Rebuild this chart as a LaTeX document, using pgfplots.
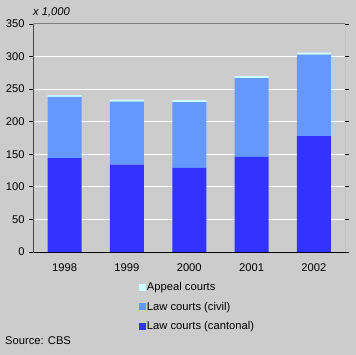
\documentclass[border=0pt]{standalone}
\usepackage{pgfplots}
\pgfplotsset{compat=1.18}
\usepackage{fontspec}
\setmainfont{Liberation Sans}
\definecolor{bg}{HTML}{CCCCCC}
\definecolor{cantonal}{HTML}{3333FF}
\definecolor{civil}{HTML}{6699FF}
\definecolor{appeal}{HTML}{CCFFFF}
\definecolor{frame}{HTML}{808080}
\begin{document}
\fontsize{11.2bp}{12.5bp}\selectfont
\begin{tikzpicture}
\fill[bg] (0,0) rectangle (356bp,355bp);
\useasboundingbox (0,0) rectangle (356bp,355bp);
\begin{axis}[
  at={(33.5bp,103bp)}, anchor=south west,
  width=311.5bp, height=228bp, scale only axis,
  ybar stacked, bar width=34bp,
  xmin=-0.5, xmax=4.5, ymin=0, ymax=350,
  xtick={0,1,2,3,4}, xticklabels={1998,1999,2000,2001,2002},
  ytick={0,50,...,350},
  axis line style={draw=none},
  ymajorgrids, grid style={white, line width=1bp},
  x tick style={draw=none},
  y tick style={black, line width=0.8bp},
  tick align=outside, major tick length=4bp,
  /pgf/number format/assume math mode=true,
  yticklabel style={xshift=-1bp},
  xticklabel style={yshift=-4bp},
  reverse legend,
  legend cell align=left,
  legend style={at={(0.338,-0.127)}, anchor=north west, draw=none, fill=none,
    row sep=8bp, inner sep=0pt,
    nodes={inner sep=1pt}},
  legend image code/.code={\fill[#1] (0bp,-3.5bp) rectangle (7bp,3.5bp);},
]
\addplot[fill=cantonal, draw=none] coordinates {(0,144) (1,134) (2,129) (3,146) (4,178)};
\addplot[fill=civil, draw=none] coordinates {(0,94) (1,97) (2,101) (3,121) (4,125)};
\addplot[fill=appeal, draw=none] coordinates {(0,3) (1,3) (2,3) (3,3) (4,3)};
\legend{Law courts (cantonal),Law courts (civil),Appeal courts}
\draw[frame, line width=1bp] (rel axis cs:0,1) -- (rel axis cs:1,1) -- (rel axis cs:1,0);
\draw[black, line width=1bp] (rel axis cs:1,0) -- (rel axis cs:0,0) -- (rel axis cs:0,1);
\end{axis}
\node[anchor=west, inner sep=0pt, font=\itshape] at (33bp,343bp) {x 1,000};
\node[anchor=west, inner sep=0pt] at (5bp,14bp) {Source: CBS};
\end{tikzpicture}
\end{document}
